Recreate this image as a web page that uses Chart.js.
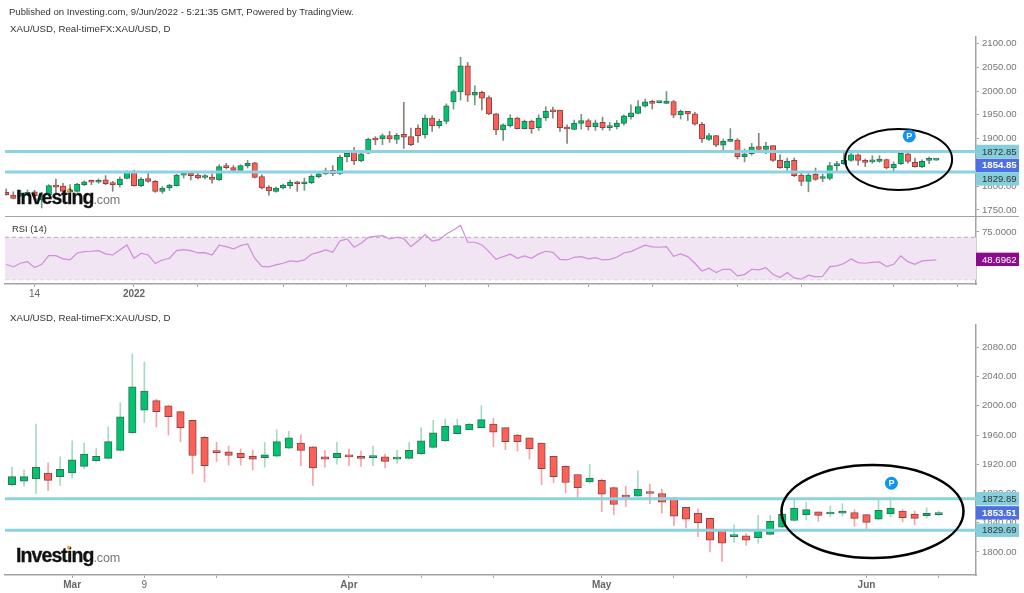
<!DOCTYPE html>
<html>
<head>
<meta charset="utf-8">
<title>XAU/USD</title>
<script src="https://cdn.jsdelivr.net/npm/chart.js@4/dist/chart.umd.min.js"></script>
<style>
  html, body { margin: 0; padding: 0; background: #fff; }
  body { width: 1024px; height: 593px; position: relative; overflow: hidden; font-family: "Liberation Sans", Arial, sans-serif; }
  canvas { position: absolute; left: 0; }
  .txt { position: absolute; white-space: nowrap; color: #333; font-size: 9.7px; line-height: 12px; }
  .logo { position: absolute; left: 16px; white-space: nowrap; font-size: 19.5px; line-height: 22px; font-weight: bold; color: #111; letter-spacing: -0.9px; -webkit-text-stroke: 0.3px #111; }
  .logo span { font-weight: normal; color: #777; font-size: 12.6px; letter-spacing: -0.2px; -webkit-text-stroke: 0; }
  .dot { position: absolute; width: 3px; height: 3px; background: #f6a623; transform: rotate(45deg); }
</style>
</head>
<body>
<canvas id="topChart" width="1024" height="218" style="top:0"></canvas>
<canvas id="rsiChart" width="1024" height="86" style="top:217px"></canvas>
<canvas id="lowerChart" width="1024" height="293" style="top:300px"></canvas>
<div class="txt" style="left:9px;top:6px;font-size:9.54px">Published on Investing.com, 9/Jun/2022 - 5:21:35 GMT, Powered by TradingView.</div>
<div class="txt" style="left:10px;top:23px">XAU/USD, Real-timeFX:XAU/USD, D</div>
<div class="txt" style="left:12px;top:223px;font-size:9.4px">RSI (14)</div>
<div class="txt" style="left:10px;top:312px">XAU/USD, Real-timeFX:XAU/USD, D</div>
<div class="logo" style="top:186px">Investing<span>.com</span></div>
<div class="logo" style="top:544px">Investing<span>.com</span></div>
<div class="dot" style="left:67px;top:189px"></div>
<div class="dot" style="left:67px;top:546px"></div>
<script>
// top pane, daily candles
const topOpen = [
  1787,1781,1780,1781,1788,1771,1782,1800,1800,1787,1789,1803,
  1810,1808,1813,1806,1803,1816,1830,1801,1816,1810,1789,1796,
  1801,1823,1827,1823,1818,1819,1813,1842,1839,1833,1843,1849,
  1820,1798,1789,1796,1801,1808,1805,1807,1820,1826,1833,1826,
  1862,1872,1853,1869,1899,1900,1906,1898,1909,1904,1922,1908,
  1943,1927,1936,1977,1998,2053,1991,1997,1986,1952,1918,1927,
  1943,1921,1936,1923,1944,1958,1960,1924,1919,1932,1938,1925,
  1934,1923,1925,1932,1946,1953,1968,1977,1975.5,1974,1978,1950,
  1957,1952,1930,1898,1906,1886,1894,1897,1862,1868,1883,1877,
  1885,1854,1839,1854,1823,1810,1825,1816,1816,1843,1847,1854,
  1866,1853,1851,1852,1856,1838,1847,1868,1850,1841,1854,1854.5
]
const topClose = [
  1782,1774,1785,1787,1780,1782,1801,1798,1789,1792,1804,1809,
  1808,1811,1805,1803,1815,1829,1801,1815,1810,1789,1796,1802,
  1823,1826,1822,1817,1820,1814,1841,1839,1833,1843,1848,1818,
  1796,1790,1796,1802,1808,1805,1808,1821,1826,1832,1826,1861,
  1869,1853,1868,1899,1897,1906,1899,1907,1903,1887,1906,1943,
  1927,1936,1969,1999,2053,1991,1997,1985,1952,1918,1929,1943,
  1921,1936,1921,1943,1957,1956,1923,1920,1932,1938,1925,1933,
  1923,1925,1932,1948,1954,1967,1977,1974,1976,1979,1949,1957,
  1952,1930,1899,1906,1886,1894,1897,1862,1868,1882,1877,1884,
  1854,1839,1852,1822,1810,1823,1814,1818,1843,1847,1854,1866,
  1854,1850,1854,1857,1838,1846,1869,1852,1841,1852,1854.5,1855
]
const topHigh = [
  1794,1788,1791,1792,1791,1787,1803,1815,1806,1803,1806,1811,
  1813,1815,1822,1810,1819,1832,1833,1818,1831,1812,1799,1804,
  1825,1831,1830,1831,1824,1826,1845,1848,1843,1845,1854,1850,
  1824,1801,1798,1804,1813,1810,1817,1824,1829,1838,1843,1865,
  1875,1881,1873,1901,1904,1910,1915,1911,1976,1922,1929,1950,
  1948,1941,1973,2002,2071,2060,2011,2000,1990,1953,1931,1950,
  1945,1939,1939,1950,1967,1966,1960,1929,1939,1951,1941,1939,
  1945,1934,1938,1950,1971,1980,1983,1981,1976.5,1999,1980,1960,
  1957,1955,1934,1911,1907,1899,1921,1900,1878,1890,1911,1892,
  1885,1866,1859,1859,1829,1831,1838,1825,1850,1852,1869,1869,
  1868,1857,1864,1864,1857,1851,1871,1875,1859,1855,1861,1855.5
]
const topLow = [
  1781,1773,1778,1780,1778,1754,1780,1785,1785,1785,1787,1801,
  1803,1806,1803,1789,1798,1815,1800,1799,1808,1787,1785,1791,
  1800,1817,1813,1815,1815,1806,1812,1836,1829,1829,1838,1817,
  1794,1781,1787,1794,1795,1789,1791,1805,1817,1824,1822,1824,
  1851,1845,1851,1868,1887,1887,1892,1889,1879,1885,1892,1901,
  1915,1922,1931,1962,1981,1978,1971,1960,1950,1908,1896,1924,
  1920,1920,1911,1917,1938,1943,1915,1890,1918,1920,1918,1917,
  1918,1917,1920,1928,1941,1952,1966,1962,1975,1973,1944,1941,
  1938,1928,1892,1896,1883,1875,1894,1857,1851,1865,1875,1868,
  1852,1837,1833,1820,1801,1788,1812,1809,1813,1831,1845,1852,
  1844,1841,1848,1850,1836,1829,1845,1848,1840,1839,1847,1854
]
const topPriceTicks = [1750,1800,1850,1900,1950,2000,2050,2100]

// RSI pane
const rsiValues = [
  44.5,42,45.5,47,41.4,44.5,52.7,52.7,49.6,48.6,55.2,56.5,
  56.8,57.4,54.3,53.3,58.1,62.8,50.2,54.9,53.3,45.2,48.6,50.2,
  57.4,58.4,57.4,55.2,55.5,53.3,62.5,61.2,59,62.1,63.7,50.2,
  42.6,42,43.9,45.5,47.7,47,48.6,54,55.8,58.1,55.8,66.5,
  68.4,60.6,64.3,70,70.9,71.6,68.4,70,68.7,61.2,66.5,72.5,
  66.5,67.8,73.1,76.9,81.3,65.3,65.3,62.8,56.5,49.2,51.8,54,
  50.2,52.4,50.2,54.3,56.8,55.8,49.2,48.6,51.1,51.8,49.6,50.8,
  48.6,49.2,51.1,55.2,56.5,59.6,62.5,60.9,60.6,61.2,52.1,54.3,
  51.8,45.5,38.2,40.8,36.7,39.8,39.8,33.5,34.8,39.8,39.2,41.4,
  35.1,32,36.7,31.6,30.4,34.2,32.6,33.2,42.3,43,45.2,49.6,
  46.1,45.5,46.4,46.7,42.3,44.5,52.4,47,44.5,47.7,48.2,48.7
]
const rsiBands = [70, 30]
const rsiTicks = [75]

const topTickIndex = [4,18,27,39,48,59,68,82,91,103,112,125,134]
const topTickLabels = ['14','2022','','','','','','','','','','','']

// lower pane, zoomed in on the same candles
const lowerOpen = [
  1892,1897,1900,1908,1903,1908,1917,1925,1928,1939,1963,1994,
  2007,2000,1992,1980,1957,1938,1937,1935,1931,1929,1931,1942,
  1949,1944,1930,1929,1931,1931,1929,1930,1927,1928,1934,1943,
  1952,1962,1967,1970,1975,1970,1960,1956,1949,1931,1917,1906,
  1896,1898,1888,1877,1876.5,1882,1880,1874,1861,1853,1846,1831,
  1821,1822,1819.5,1824,1834,1843,1851,1855,1852,1853,1854,1851,
  1845,1852,1856,1852,1849.6,1851
]
const lowerClose = [
  1903,1903,1916,1898,1913,1926,1934,1931,1951,1985,2026,2020,
  1992,1985,1970,1932,1918,1936,1932,1929,1927,1933,1951,1956,
  1939,1915,1927,1935,1930,1928,1930,1924,1929,1939,1952,1963,
  1972,1973,1975,1981,1964,1951,1951,1941,1914,1903,1895,1888,
  1901,1879,1865,1875,1886,1880,1868,1849,1845,1840,1816,1812,
  1822,1816,1829.5,1842,1852,1860,1858,1850,1853,1856,1846,1840.5,
  1857,1860,1847,1846,1853,1853.7
]
const lowerHigh = [
  1916,1912,1975,1922,1930,1952,1949,1942,1971,2004,2071,2060,
  2009,2001,1992.5,1980.5,1958,1950,1945,1941,1939,1950,1967,1965,
  1960,1944.5,1939,1950,1941,1938,1945,1934,1939,1950,1970,1980,
  1982,1982,1976,2000,1983,1970,1961,1956,1949,1931,1918,1906,
  1920,1900,1889,1890,1911,1893,1886,1874,1861,1859,1846,1831,
  1837,1825,1850,1850,1853,1872,1868,1855,1863,1866,1858,1851.5,
  1872,1875,1858,1856,1860.5,1856
]
const lowerLow = [
  1890,1890,1880,1884,1891,1901,1914,1923,1927,1938,1962,1977,
  1971,1960,1951,1907,1896,1924,1919,1919,1912,1916,1930,1941,
  1918,1891,1916,1920,1918,1917,1918,1915,1921,1927,1933,1942,
  1951,1961,1967,1970,1944,1940,1938,1927,1892,1895,1881,1872,
  1894,1855,1851,1862,1876,1866,1853,1836,1833,1821,1800,1787,
  1813,1809,1812,1823,1833,1842,1844,1842,1848,1849,1835,1829.5,
  1844,1848,1841,1837,1846,1850
]
const lowerPriceTicks = [1800,1840,1880,1920,1960,2000,2040,2080]
const lowerTickIndex = [5,11,17,28,34,40,49,55,61,71,77]
const lowerTickLabels = ['Mar','9','','Apr','','','May','','','Jun','']

const levels = [1872.85, 1829.69]
const topLast = 1854.85
const lowerLast = 1853.51
const rsiLast = 48.6962

const greenBody = '#00c26f'
const redBody = '#fb6158'
const greenEdge = '#2f6f55'
const redEdge = '#8c4440'
const tealLine = '#8dd2df'
const axisColor = '#a3a3a3'
const tickText = '#777777'
const tickFont = { family: '"Liberation Sans", Arial, sans-serif', size: 9.6 }

const overlay = {
  id: 'overlay',
  afterDraw(chart, args, opts) {
    const { ctx, chartArea, scales } = chart
    const xs = scales.x, ys = scales.y
    ctx.save()
    if (opts.baseLine) {
      ctx.strokeStyle = axisColor
      ctx.lineWidth = 1
      ctx.beginPath()
      ctx.moveTo(chartArea.left, chartArea.bottom - 0.5)
      ctx.lineTo(1019, chartArea.bottom - 0.5)
      ctx.stroke()
    }
    if (opts.ring) {
      ctx.strokeStyle = '#000'
      ctx.lineWidth = opts.ring.lw
      ctx.beginPath()
      ctx.ellipse(xs.getPixelForValue(opts.ring.x), ys.getPixelForValue(opts.ring.y),
        opts.ring.rx, opts.ring.ry, 0, 0, Math.PI * 2)
      ctx.stroke()
    }
    if (opts.mark) {
      const mx = xs.getPixelForValue(opts.mark.x), my = ys.getPixelForValue(opts.mark.y)
      ctx.fillStyle = '#0f93f4'
      ctx.beginPath()
      ctx.arc(mx, my, 6.5, 0, Math.PI * 2)
      ctx.fill()
      ctx.fillStyle = '#fff'
      ctx.font = 'bold 9px "Liberation Sans", Arial, sans-serif'
      ctx.textAlign = 'center'
      ctx.textBaseline = 'middle'
      ctx.fillText('P', mx, my + 0.5)
    }
    ;(opts.boxes || []).forEach(b => {
      const cy = ys.getPixelForValue(b.value) + b.nudge
      ctx.fillStyle = b.bg
      ctx.fillRect(chartArea.right, cy - 6.7, 43, 13.4)
      ctx.fillStyle = b.fg
      ctx.font = (b.bold ? 'bold ' : '') + '9.6px "Liberation Sans", Arial, sans-serif'
      ctx.textAlign = 'left'
      ctx.textBaseline = 'middle'
      ctx.fillText(b.text, chartArea.right + 6, cy + 0.5)
    })
    ctx.restore()
  }
}

const priceAxis = (min, max, ticks, fixed) => ({
  type: 'linear',
  position: 'right',
  min,
  max,
  afterFit: ax => {
    ax.width = 48
    ax.paddingTop = 0
    ax.paddingBottom = 0
  },
  afterBuildTicks: ax => { ax.ticks = ticks.map(value => ({ value })) },
  border: { color: axisColor, width: 1.5 },
  grid: { drawOnChartArea: false, tickLength: 3, tickColor: axisColor },
  ticks: {
    autoSkip: false,
    font: tickFont,
    color: tickText,
    padding: 3,
    callback: v => v.toFixed(fixed)
  }
})

const indexAxis = (min, max, index, labels, height) => ({
  type: 'linear',
  min,
  max,
  offset: false,
  display: index ? true : false,
  afterFit: ax => {
    ax.height = height
    ax.paddingLeft = 0
    ax.paddingRight = 0
  },
  afterBuildTicks: ax => { if (index) ax.ticks = index.map(value => ({ value })) },
  border: { color: axisColor, width: 1.5 },
  grid: { offset: false, drawOnChartArea: false, tickLength: 3, tickColor: axisColor },
  ticks: {
    autoSkip: false,
    maxRotation: 0,
    padding: 1,
    color: '#666',
    font: ctx => {
      const text = labels && ctx.tick ? labels[index.indexOf(ctx.tick.value)] : ''
      return { family: tickFont.family, size: 10, weight: /^\d$|^14$/.test(text) ? 'normal' : 'bold' }
    },
    callback: v => labels ? labels[index.indexOf(v)] : ''
  }
})

const candleSets = (open, high, low, close, bodyWidth, wickGreen, wickRed, xMin, xMax) => {
  const up = open.map((o, i) => close[i] >= o)
  return [
    {
      type: 'line',
      data: [{ x: xMin, y: levels[0] }, { x: xMax, y: levels[0] }],
      borderColor: tealLine, borderWidth: 3, pointRadius: 0, order: 1
    },
    {
      type: 'line',
      data: [{ x: xMin, y: levels[1] }, { x: xMax, y: levels[1] }],
      borderColor: tealLine, borderWidth: 3, pointRadius: 0, order: 1
    },
    {
      type: 'bar',
      data: open.map((o, i) => ({ x: i, y: [o, close[i]] })),
      grouped: false,
      barThickness: bodyWidth,
      minBarLength: 2,
      borderSkipped: false,
      backgroundColor: up.map(u => u ? greenBody : redBody),
      borderColor: up.map(u => u ? greenEdge : redEdge),
      borderWidth: 1,
      order: 2
    },
    {
      type: 'bar',
      data: open.map((o, i) => ({ x: i, y: [low[i], high[i]] })),
      grouped: false,
      barThickness: 1,
      backgroundColor: up.map(u => u ? wickGreen : wickRed),
      order: 3
    }
  ]
}

const baseOptions = (padding, scales, overlayOpts) => ({
  responsive: false,
  animation: false,
  events: [],
  layout: { padding },
  scales,
  plugins: {
    legend: { display: false },
    tooltip: { enabled: false },
    overlay: overlayOpts
  }
})

new Chart(document.getElementById('topChart'), {
  data: { datasets: candleSets(topOpen, topHigh, topLow, topClose, 5.5, '#6f9a84', '#8f7f78', -0.17, 136.6) },
  plugins: [overlay],
  options: baseOptions({ top: 37, bottom: 1, left: 5, right: 0 }, {
    x: indexAxis(-0.17, 136.6, null, null, 0),
    y: priceAxis(1735, 2113.6, topPriceTicks, 2)
  }, {
    baseLine: true,
    ring: { x: 125.7, y: 1856, rx: 53.5, ry: 30.5, lw: 2 },
    mark: { x: 127.2, y: 1905.5 },
    boxes: [
      { value: levels[0], text: '1872.85', bg: '#85cfdc', fg: '#333', nudge: 0 },
      { value: topLast, text: '1854.85', bg: '#4c6fe3', fg: '#fff', bold: true, nudge: 5.3 },
      { value: levels[1], text: '1829.69', bg: '#85cfdc', fg: '#333', nudge: 6.9 }
    ]
  })
})

new Chart(document.getElementById('rsiChart'), {
  type: 'line',
  data: {
    datasets: [
      {
        data: rsiValues.map((v, i) => ({ x: i, y: v })),
        borderColor: '#cf8ed8', borderWidth: 1.2, pointRadius: 0, tension: 0, order: 1
      },
      {
        data: [{ x: -0.17, y: rsiBands[0] }, { x: 136.6, y: rsiBands[0] }],
        borderColor: '#b9a9ba', borderWidth: 1, borderDash: [4, 3], pointRadius: 0,
        fill: { value: rsiBands[1] }, backgroundColor: '#f1e4f3', order: 2
      },
      {
        data: [{ x: -0.17, y: rsiBands[1] }, { x: 136.6, y: rsiBands[1] }],
        borderColor: '#b9a9ba', borderWidth: 1, borderDash: [4, 3], pointRadius: 0, order: 2
      }
    ]
  },
  plugins: [overlay],
  options: baseOptions({ top: 0, bottom: 0, left: 5, right: 0 }, {
    x: indexAxis(-0.17, 136.6, topTickIndex, topTickLabels, 19),
    y: priceAxis(25.9, 89.15, rsiTicks, 4)
  }, {
    boxes: [{ value: rsiLast, text: '48.6962', bg: '#8a0b8c', fg: '#fff', nudge: -0.5 }]
  })
})

new Chart(document.getElementById('lowerChart'), {
  data: { datasets: candleSets(lowerOpen, lowerHigh, lowerLow, lowerClose, 7.5, '#a4dcc0', '#f9a3a8', -0.58, 80.1) },
  plugins: [overlay],
  options: baseOptions({ top: 25, bottom: 0, left: 5, right: 0 }, {
    x: indexAxis(-0.58, 80.1, lowerTickIndex, lowerTickLabels, 18),
    y: priceAxis(1768.5, 2110.5, lowerPriceTicks, 2)
  }, {
    ring: { x: 71.5, y: 1855.4, rx: 91, ry: 46.5, lw: 2.5 },
    mark: { x: 73.07, y: 1894 },
    boxes: [
      { value: levels[0], text: '1872.85', bg: '#85cfdc', fg: '#333', nudge: 0 },
      { value: lowerLast, text: '1853.51', bg: '#4c6fe3', fg: '#fff', bold: true, nudge: 0 },
      { value: levels[1], text: '1829.69', bg: '#85cfdc', fg: '#333', nudge: 0 }
    ]
  })
})
</script>
</body>
</html>
